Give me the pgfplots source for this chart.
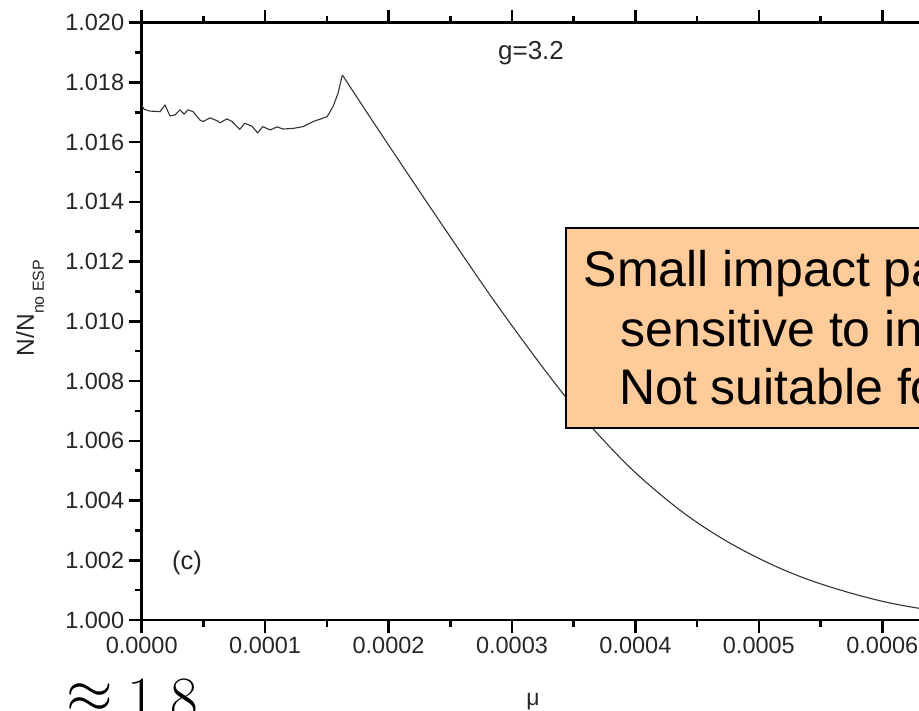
\documentclass[border=0pt]{standalone}
\usepackage{amssymb}
\usepackage{fontspec}
\setmainfont{Liberation Sans}
\usepackage{pgfplots}
\pgfplotsset{compat=1.18}
\definecolor{peach}{HTML}{FFCC99}
\begin{document}
\begin{tikzpicture}[x=1pt,y=1pt]
\path[use as bounding box] (0,0) rectangle (919,711);
\clip (0,0) rectangle (919,711);
\begin{axis}[
  at={(141.7pt,91pt)}, anchor=south west,
  scale only axis, width=864pt, height=597.3pt,
  xmin=0, xmax=0.0007, ymin=1.000, ymax=1.020,
  xtick={0,0.0001,0.0002,0.0003,0.0004,0.0005,0.0006,0.0007},
  ytick={1.000,1.002,1.004,1.006,1.008,1.010,1.012,1.014,1.016,1.018,1.020},
  minor x tick num=1, minor y tick num=1,
  tick align=outside,
  xtick pos=both, ytick pos=left,
  xticklabel pos=lower, yticklabel pos=left,
  major tick length=13pt, minor tick length=7pt,
  line width=2.5pt,
  every tick/.style={line width=2.5pt, black},
  scaled x ticks=false, scaled y ticks=false,
  /pgf/number format/assume math mode=true,
  tick label style={font=\fontsize{23.5}{28}\selectfont, text=black!85},
  xticklabel style={/pgf/number format/.cd, fixed, fixed zerofill, precision=4},
  yticklabel style={/pgf/number format/.cd, fixed, fixed zerofill, precision=3},
  ylabel={N/N\raisebox{-10pt}{\fontsize{16}{19}\selectfont no ESP}},
  ylabel style={at={(axis description cs:-0.1293,0.5224)}, anchor=center, font=\fontsize{24.5}{28}\selectfont, text=black!85},
  xlabel={μ},
  xlabel style={at={(axis description cs:0.4529,-0.137)}, anchor=center, font=\fontsize{23}{27}\selectfont, text=black!85},
]
\addplot[line width=1.1pt, black!80] coordinates {
(0.000e-4,1.01724) (0.020e-4,1.01710) (0.067e-4,1.01704) (0.148e-4,1.01702)
(0.189e-4,1.01724) (0.229e-4,1.01688) (0.270e-4,1.01691) (0.310e-4,1.01708)
(0.343e-4,1.01694) (0.375e-4,1.01708) (0.416e-4,1.01702) (0.472e-4,1.01674)
(0.497e-4,1.01669) (0.553e-4,1.01681) (0.610e-4,1.01672) (0.635e-4,1.01665)
(0.691e-4,1.01678) (0.732e-4,1.01669) (0.794e-4,1.01643) (0.835e-4,1.01663)
(0.891e-4,1.01654) (0.940e-4,1.01631) (0.980e-4,1.01652) (1.040e-4,1.01641)
(1.097e-4,1.01651) (1.146e-4,1.01644) (1.226e-4,1.01646) (1.308e-4,1.01652)
(1.389e-4,1.01669) (1.502e-4,1.01685) (1.550e-4,1.01719) (1.591e-4,1.01764)
(1.6256e-4,1.01825)
};
\addplot[line width=1.1pt, black!80, smooth, tension=0.55] coordinates {
(1.6256e-4,1.01825) (1.931e-4,1.01633) (2.336e-4,1.01383) (2.782e-4,1.01112)
(3.066e-4,1.00948) (3.325e-4,1.00805) (3.568e-4,1.00681) (3.965e-4,1.00507)
(4.370e-4,1.00365) (4.751e-4,1.00261) (5.156e-4,1.00176) (5.537e-4,1.00116)
(6.007e-4,1.00062) (6.469e-4,1.00029) (7.004e-4,1.00010)
};
\node[font=\fontsize{26}{30}\selectfont, text=black!85] at (axis description cs:0.4506,0.949) {g=3.2};
\node[font=\fontsize{25.5}{30}\selectfont, text=black!85] at (axis description cs:0.0524,0.0954) {(c)};
\end{axis}
\draw[line width=2.5pt, fill=peach] (566,283) rectangle (1000,483);
\node[anchor=base west, inner sep=0, font=\fontsize{50}{60}\selectfont] at (583.6,424) {Small impact pa};
\node[anchor=base west, inner sep=0, font=\fontsize{50}{60}\selectfont] at (620.5,364.3) {sensitive to in};
\node[anchor=base west, inner sep=0, font=\fontsize{50}{60}\selectfont] at (619,306) {Not suitable fo};
\node[anchor=base west, inner sep=0, font=\fontsize{60}{72}\selectfont\fontfamily{lmr}\selectfont] at (66.5,-7.6) {$\approxeq$\hspace{14.6pt}1.8};
\end{tikzpicture}
\end{document}
